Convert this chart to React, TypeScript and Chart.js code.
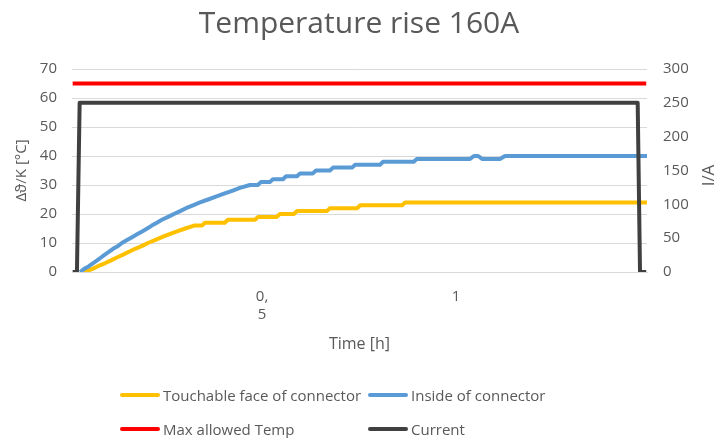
import { useEffect, useRef } from 'react';
import { Chart, registerables } from 'chart.js';

Chart.register(...registerables);

const chartTitle = 'Temperature rise 160A';
const xAxisTitle = 'Time [h]';
const yLeftTitle = 'Δϑ/K [°C]';
const yRightTitle = 'I/A';
const seriesNames = ['Touchable face of connector', 'Inside of connector', 'Max allowed Temp', 'Current'];
const seriesColors = ['#FFC000', '#5B9BD5', '#FF0000', '#404040'];

const xTickValues = [0.5, 1];
const xTickLabels = [['0,', '5'], ['1']];
const xMin = 0.0103;
const xMax = 1.492;

const touchableTime = [0.041, 0.062, 0.077, 0.095, 0.111, 0.126, 0.142, 0.157, 0.173, 0.191, 0.206, 0.224, 0.242, 0.26, 0.281, 0.302, 0.325, 0.345, 0.353, 0.404, 0.412, 0.482, 0.49, 0.538, 0.546, 0.582, 0.59, 0.667, 0.675, 0.745, 0.753, 0.861, 0.869, 1.492];
const touchableTemp = [0, 1, 2, 3, 4, 5, 6, 7, 8, 9, 10, 11, 12, 13, 14, 15, 16, 16, 17, 17, 18, 18, 19, 19, 20, 20, 21, 21, 22, 22, 23, 23, 24, 24];

const insideTime = [0.031, 0.041, 0.054, 0.064, 0.075, 0.085, 0.095, 0.106, 0.116, 0.129, 0.139, 0.152, 0.165, 0.178, 0.191, 0.204, 0.216, 0.229, 0.242, 0.258, 0.273, 0.289, 0.304, 0.322, 0.34, 0.361, 0.381, 0.402, 0.423, 0.443, 0.469, 0.489, 0.497, 0.52, 0.528, 0.554, 0.562, 0.59, 0.598, 0.631, 0.639, 0.675, 0.683, 0.732, 0.74, 0.804, 0.812, 0.891, 0.899, 1.036, 1.046, 1.057, 1.067, 1.113, 1.126, 1.492];
const insideTemp = [0, 1, 2, 3, 4, 5, 6, 7, 8, 9, 10, 11, 12, 13, 14, 15, 16, 17, 18, 19, 20, 21, 22, 23, 24, 25, 26, 27, 28, 29, 30, 30, 31, 31, 32, 32, 33, 33, 34, 34, 35, 35, 36, 36, 37, 37, 38, 38, 39, 39, 40, 40, 39, 39, 40, 40];

const maxTempTime = [0.012, 1.49];
const maxTempValue = [65, 65];

const currentTime = [0.012, 0.023, 0.03, 1.468, 1.474, 1.49];
const currentValue = [0, 0, 250, 250, 0, 0];

const FONT = "'Open Sans', 'DejaVu Sans', sans-serif";
const TEXT = '#595959';

const toPoints = (xs: number[], ys: number[]) => xs.map((x, i) => ({ x, y: ys[i] }));

const rightTitlePlugin = {
  id: 'rightTitle',
  afterDraw(chart: any) {
    const s = chart.scales.y1;
    const area = chart.chartArea;
    const ctx = chart.ctx;
    ctx.save();
    ctx.translate(s.right - 9, (area.top + area.bottom) / 2 + 5);
    ctx.rotate(-Math.PI / 2);
    ctx.fillStyle = TEXT;
    ctx.font = `17px ${FONT}`;
    ctx.textAlign = 'center';
    ctx.textBaseline = 'middle';
    ctx.fillText(yRightTitle, 0, 0);
    ctx.restore();
  },
};

export default function App() {
  const ref = useRef<HTMLCanvasElement | null>(null);

  useEffect(() => {
    if (!ref.current) return;
    const line = (i: number, data: { x: number; y: number }[], axis: string, order: number) => ({
      label: seriesNames[i],
      data,
      borderColor: seriesColors[i],
      backgroundColor: seriesColors[i],
      borderWidth: 4,
      pointRadius: 0,
      tension: 0,
      fill: false,
      borderJoinStyle: 'round' as const,
      yAxisID: axis,
      order,
    });
    const chart = new Chart(ref.current, {
      type: 'line',
      data: {
        datasets: [
          line(0, toPoints(touchableTime, touchableTemp), 'y', 3),
          line(1, toPoints(insideTime, insideTemp), 'y', 2),
          line(2, toPoints(maxTempTime, maxTempValue), 'y', 1),
          line(3, toPoints(currentTime, currentValue), 'y1', 0),
        ],
      },
      options: {
        animation: false,
        responsive: false,
        devicePixelRatio: 1,
        layout: { padding: { top: 0, left: 0, right: 0, bottom: 70 } },
        plugins: {
          legend: { display: false },
          tooltip: { enabled: false },
          title: {
            display: true,
            text: chartTitle,
            color: TEXT,
            font: { family: FONT, size: 30, weight: 'normal', lineHeight: 1.2 },
            padding: { top: 6, bottom: 27 },
          },
        },
        scales: {
          x: {
            type: 'linear',
            min: xMin,
            max: xMax,
            grid: { display: false, drawTicks: false },
            border: { display: true, color: '#d9d9d9', width: 1 },
            afterBuildTicks: (s: any) => {
              s.ticks = xTickValues.map((v) => ({ value: v }));
            },
            afterFit: (s: any) => {
              s.height = 96;
            },
            ticks: {
              autoSkip: false,
              maxRotation: 0,
              padding: 15,
              color: TEXT,
              font: { family: FONT, size: 15, lineHeight: 1.25 },
              callback: (v: any) => {
                const i = xTickValues.indexOf(Number(v));
                return i >= 0 ? xTickLabels[i] : '';
              },
            },
            title: {
              display: true,
              text: xAxisTitle,
              color: TEXT,
              font: { family: FONT, size: 16, lineHeight: 1.2 },
              padding: { top: 0, bottom: 14 },
            },
          },
          y: {
            position: 'left',
            min: 0,
            max: 70,
            ticks: { stepSize: 10, padding: 15, color: TEXT, font: { family: FONT, size: 15 } },
            grid: { color: '#d9d9d9', lineWidth: 1, drawTicks: false },
            border: { display: false },
            afterFit: (s: any) => {
              s.width = 72;
            },
            title: {
              display: true,
              text: yLeftTitle,
              color: TEXT,
              font: { family: FONT, size: 15, lineHeight: 1.2 },
              padding: { top: 13, bottom: 0 },
            },
          },
          y1: {
            position: 'right',
            min: 0,
            max: 300,
            ticks: { stepSize: 50, padding: 16, color: TEXT, font: { family: FONT, size: 15 } },
            grid: { display: false, drawTicks: false },
            border: { display: false },
            afterFit: (s: any) => {
              s.width = 71;
            },
          },
        },
      },
      plugins: [rightTitlePlugin],
    } as any);
    return () => chart.destroy();
  }, []);

  const legendItems = [
    { i: 0, left: 120, top: 395 },
    { i: 1, left: 368, top: 395 },
    { i: 2, left: 120, top: 429 },
    { i: 3, left: 368, top: 429 },
  ];

  return (
    <div style={{ position: 'fixed', left: 0, top: 0, width: 718, height: 438, background: '#fff', overflow: 'hidden' }}>
      <canvas ref={ref} width={718} height={438} style={{ position: 'absolute', left: 0, top: 0, width: 718, height: 438 }} />
      {legendItems.map((it) => (
        <div
          key={it.i}
          style={{
            position: 'absolute',
            left: it.left,
            top: it.top - 11,
            height: 22,
            display: 'flex',
            alignItems: 'center',
            fontFamily: FONT,
            fontSize: 15,
            color: TEXT,
            whiteSpace: 'nowrap',
          }}
        >
          <span style={{ display: 'inline-block', width: 40, height: 4, borderRadius: 2, background: seriesColors[it.i], marginRight: 3 }} />
          <span>{seriesNames[it.i]}</span>
        </div>
      ))}
    </div>
  );
}
